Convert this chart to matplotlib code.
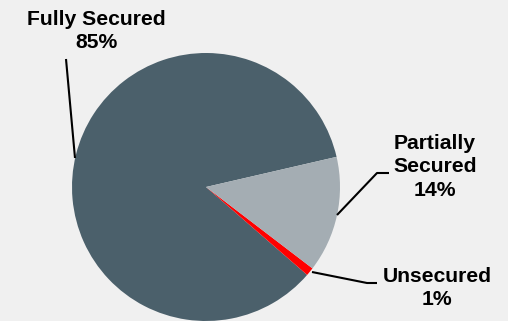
import matplotlib
matplotlib.use('Agg')
import matplotlib.pyplot as plt

# data
labels = ['Fully Secured', 'Unsecured', 'Partially\nSecured']
shares = [85, 1, 14]
colors = ['#4b606b', '#ff0000', '#a4adb3']

W, H = 508, 321
bg = '#f0f0f0'

plt.rcParams['font.family'] = ['Liberation Sans', 'DejaVu Sans']

fig = plt.figure(figsize=(W / 100, H / 100), dpi=100, facecolor=bg)
ax = fig.add_axes([0, 0, 1, 1])
ax.set_facecolor(bg)

cx, cy, r = 206, H - 187, 134
ax.pie(shares, colors=colors, startangle=13, counterclock=True,
       center=(cx, cy), radius=r, frame=True,
       wedgeprops=dict(linewidth=0))
ax.set_xlim(0, W)
ax.set_ylim(0, H)
ax.set_aspect('equal')
ax.axis('off')

def up(y):
    return H - y

# leader lines (image pixel coords)
leaders = [
    [(66, 59), (75, 158)],
    [(337, 215), (377, 173), (389, 173)],
    [(312, 272), (367, 283), (377, 283)],
]
for pts in leaders:
    xs = [p[0] for p in pts]
    ys = [up(p[1]) for p in pts]
    ax.plot(xs, ys, color='black', lw=1.5, solid_capstyle='butt')

# labels
label_pos = [(96, 31), (437, 288), (435, 167)]
for lab, val, (x, y) in zip(labels, shares, label_pos):
    ax.text(x, up(y), '%s\n%d%%' % (lab, val), ha='center', va='center',
            fontsize=15.2, fontweight='bold', color='black', linespacing=1.27)

fig.savefig('out.png', dpi=100, facecolor=bg)
